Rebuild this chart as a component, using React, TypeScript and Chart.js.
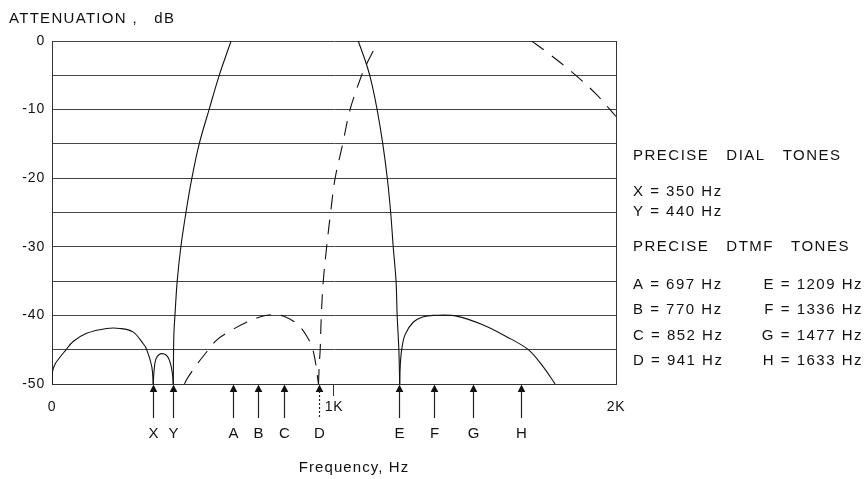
import React, { useEffect, useRef } from 'react';
import { Chart, registerables } from 'chart.js';

Chart.register(...registerables);

const FONT = '"Liberation Sans", Arial, Helvetica, sans-serif';

// Axis ticks
const xTickValues = [0, 1000, 2000];
const xTickLabels = ['0', '1K', '2K'];

// Solid curve: dial-tone lobes and rising edge (Hz, dB)
const solidLowHz = [0, 1, 11, 28, 46, 75, 123, 194, 241, 287, 323, 336, 354, 359, 362, 368, 380, 395, 410, 420, 427, 430, 432, 436, 444, 457, 475, 496, 522, 557, 593, 635];
const solidLowDb = [-50, -48.3, -47.1, -46.1, -45.2, -43.8, -42.6, -41.9, -41.9, -42.4, -44.1, -45, -47.5, -50, -48, -46.4, -45.7, -45.6, -46, -47, -48.5, -50, -43, -40, -35, -30, -25, -20, -15, -10, -5, 0];

// Solid curve: falling edge and high lobe
const solidHighHz = [1086, 1116, 1134, 1153, 1173, 1189, 1201, 1210, 1220, 1224, 1230, 1233, 1235, 1240, 1252, 1281, 1317, 1352, 1435, 1529, 1612, 1689, 1742, 1784];
const solidHighDb = [0, -3.5, -6.2, -10, -15, -20, -25, -30, -35, -40, -45, -50, -47.3, -45, -42.8, -41, -40.2, -40, -40.1, -41.4, -43.1, -45, -47.5, -50];

// Dashed curve: middle lobe and rising edge
const dashedMidHz = [470, 478, 513, 549, 584, 631, 690, 749, 785, 820, 868, 903, 927, 945, 948, 951, 955, 962, 974, 988, 1004, 1031, 1057, 1098, 1120, 1145];
const dashedMidDb = [-50, -49.3, -47.2, -45.3, -43.6, -42.3, -41, -40.1, -39.9, -40.1, -41.2, -43, -45.3, -50, -47, -45, -40, -35, -30, -25, -20, -15, -10, -5, -3, -1];

// Dashed curve: upper right falling edge
const dashedTopHz = [1701, 1754, 1843, 1926, 2000];
const dashedTopDb = [0, -1.6, -4.5, -7.6, -11];

// Tone markers (positions as drawn on the axis)
const markerLabels = ['X', 'Y', 'A', 'B', 'C', 'D', 'E', 'F', 'G', 'H'];
const markerHz = [359, 430, 643, 732, 824, 947, 1232, 1356, 1493, 1663];

// Tone table
const dialLabels = ['X', 'Y'];
const dialHz = [350, 440];
const dtmfLowLabels = ['A', 'B', 'C', 'D'];
const dtmfLowHz = [697, 770, 852, 941];
const dtmfHighLabels = ['E', 'F', 'G', 'H'];
const dtmfHighHz = [1209, 1336, 1477, 1633];

const FLOOR = -50;

// split a curve into branches at its interior nulls (cusps on the -50 dB floor)
const splitAtNulls = (xs: number[], ys: number[]) => {
  const segs: { x: number; y: number }[][] = [];
  let cur: { x: number; y: number }[] = [];
  xs.forEach((x, i) => {
    const p = { x, y: ys[i] };
    cur.push(p);
    if (ys[i] === FLOOR && i > 0 && i < xs.length - 1) {
      segs.push(cur);
      cur = [p];
    }
  });
  segs.push(cur);
  return segs;
};

const overlayPlugin = {
  id: 'overlay',
  beforeDraw(chart: any) {
    chart.ctx.letterSpacing = '1.3px';
  },
  beforeDatasetsDraw(chart: any) {
    chart.ctx.letterSpacing = '0.8px';
  },
  afterDraw(chart: any) {
    const { ctx, chartArea: a } = chart;
    const xs = chart.scales.x;
    ctx.save();
    ctx.strokeStyle = '#333';
    ctx.fillStyle = '#111';
    ctx.lineWidth = 1;
    // right frame
    const rx = Math.round(a.right - 0.5) + 0.5;
    ctx.beginPath();
    ctx.moveTo(rx, a.top);
    ctx.lineTo(rx, a.bottom);
    ctx.stroke();
    // 1K tick
    const kx = Math.round(xs.getPixelForValue(1000)) - 0.5;
    ctx.beginPath();
    ctx.moveTo(kx, a.bottom);
    ctx.lineTo(kx, a.bottom + 12);
    ctx.stroke();

    // arrows and letters
    ctx.font = `15px ${FONT}`;
    (ctx as any).letterSpacing = '0px';
    ctx.textAlign = 'center';
    ctx.textBaseline = 'middle';
    markerHz.forEach((hz, i) => {
      const px = Math.round(xs.getPixelForValue(hz)) + 0.5;
      ctx.strokeStyle = '#222';
      ctx.lineWidth = 1.2;
      ctx.setLineDash(markerLabels[i] === 'D' ? [2, 2] : []);
      ctx.beginPath();
      ctx.moveTo(px, a.bottom + 7);
      ctx.lineTo(px, a.bottom + 34);
      ctx.stroke();
      ctx.setLineDash([]);
      ctx.beginPath();
      ctx.moveTo(px, a.bottom + 0.5);
      ctx.lineTo(px - 3.8, a.bottom + 8);
      ctx.lineTo(px + 3.8, a.bottom + 8);
      ctx.closePath();
      ctx.fill();
      ctx.fillText(markerLabels[i], px, a.bottom + 50);
    });

    // x axis title
    (ctx as any).letterSpacing = '1.1px';
    ctx.fillText('Frequency, Hz', (a.left + a.right) / 2 + 20, a.bottom + 84);

    // tone table
    (ctx as any).letterSpacing = '1.5px';
    ctx.textAlign = 'left';
    const lx = a.right + 17;
    const rxText = a.right + 247;
    ctx.fillText('PRECISE   DIAL   TONES', lx, a.top + 115);
    dialLabels.forEach((l, i) => {
      ctx.fillText(`${l} = ${dialHz[i]} Hz`, lx, a.top + 151 + i * 20);
    });
    ctx.fillText('PRECISE   DTMF   TONES', lx, a.top + 206);
    dtmfLowLabels.forEach((l, i) => {
      ctx.textAlign = 'left';
      ctx.fillText(`${l} = ${dtmfLowHz[i]} Hz`, lx, a.top + 244 + i * 25.3);
      ctx.textAlign = 'right';
      ctx.fillText(`${dtmfHighLabels[i]} = ${dtmfHighHz[i]} Hz`, rxText, a.top + 244 + i * 25.3);
    });
    ctx.restore();
  },
};

export default function App() {
  const ref = useRef<HTMLCanvasElement>(null);
  useEffect(() => {
    if (!ref.current) return;
    const lineBase = {
      showLine: true,
      pointRadius: 0,
      borderColor: '#111',
      borderWidth: 1.1,
      tension: 0.35,
      fill: false,
    };
    const curves = [
      { name: 'solid low', xs: solidLowHz, ys: solidLowDb, dash: [] as number[] },
      { name: 'solid high', xs: solidHighHz, ys: solidHighDb, dash: [] as number[] },
      { name: 'dashed mid', xs: dashedMidHz, ys: dashedMidDb, dash: [15, 10] },
      { name: 'dashed top', xs: dashedTopHz, ys: dashedTopDb, dash: [15, 10] },
    ];
    const datasets: any[] = [];
    curves.forEach((c) => {
      splitAtNulls(c.xs, c.ys).forEach((seg, k) => {
        datasets.push({ ...lineBase, label: `${c.name} ${k + 1}`, data: seg, borderDash: c.dash });
      });
    });
    const chart = new Chart(ref.current, {
      type: 'scatter',
      data: { datasets },
      options: {
        responsive: false,
        animation: false,
        devicePixelRatio: 1,
        layout: { padding: { left: 9, right: 248, top: 0, bottom: 0 } },
        plugins: {
          legend: { display: false },
          tooltip: { enabled: false },
          title: {
            display: true,
            text: 'ATTENUATION ,   dB',
            align: 'start',
            color: '#111',
            font: { family: FONT, size: 15, weight: 'normal', lineHeight: 1.2 },
            padding: { top: 10, bottom: 13 },
          },
        },
        scales: {
          x: {
            type: 'linear',
            min: 0,
            max: 2000,
            afterFit: (s: any) => { s.height = 95; },
            afterBuildTicks: (s: any) => { s.ticks = xTickValues.map((v) => ({ value: v })); },
            ticks: {
              z: 1,
              color: '#111',
              font: { family: FONT, size: 14 },
              padding: 15,
              maxRotation: 0,
              autoSkip: false,
              callback: (v: any) => {
                const i = xTickValues.indexOf(Number(v));
                return i >= 0 ? xTickLabels[i] : '';
              },
            },
            grid: { display: false, drawTicks: false },
            border: { display: true, color: '#333', width: 1 },
          },
          y: {
            type: 'linear',
            min: -50,
            max: 0,
            afterFit: (s: any) => { s.width = 43; },
            ticks: {
              z: 1,
              stepSize: 5,
              color: '#111',
              font: { family: FONT, size: 14 },
              padding: 7,
              callback: (v: any) => (Number(v) % 10 === 0 ? String(v) : ''),
            },
            grid: { color: '#444', lineWidth: 1, drawTicks: false },
            border: { display: true, color: '#333', width: 1 },
          },
        },
      },
      plugins: [overlayPlugin],
    } as any);
    return () => chart.destroy();
  }, []);
  return (
    <div style={{ position: 'absolute', left: 0, top: 0, width: 864, height: 479, background: '#fff' }}>
      <canvas ref={ref} width={864} height={479} style={{ display: 'block', width: 864, height: 479 }} />
    </div>
  );
}
